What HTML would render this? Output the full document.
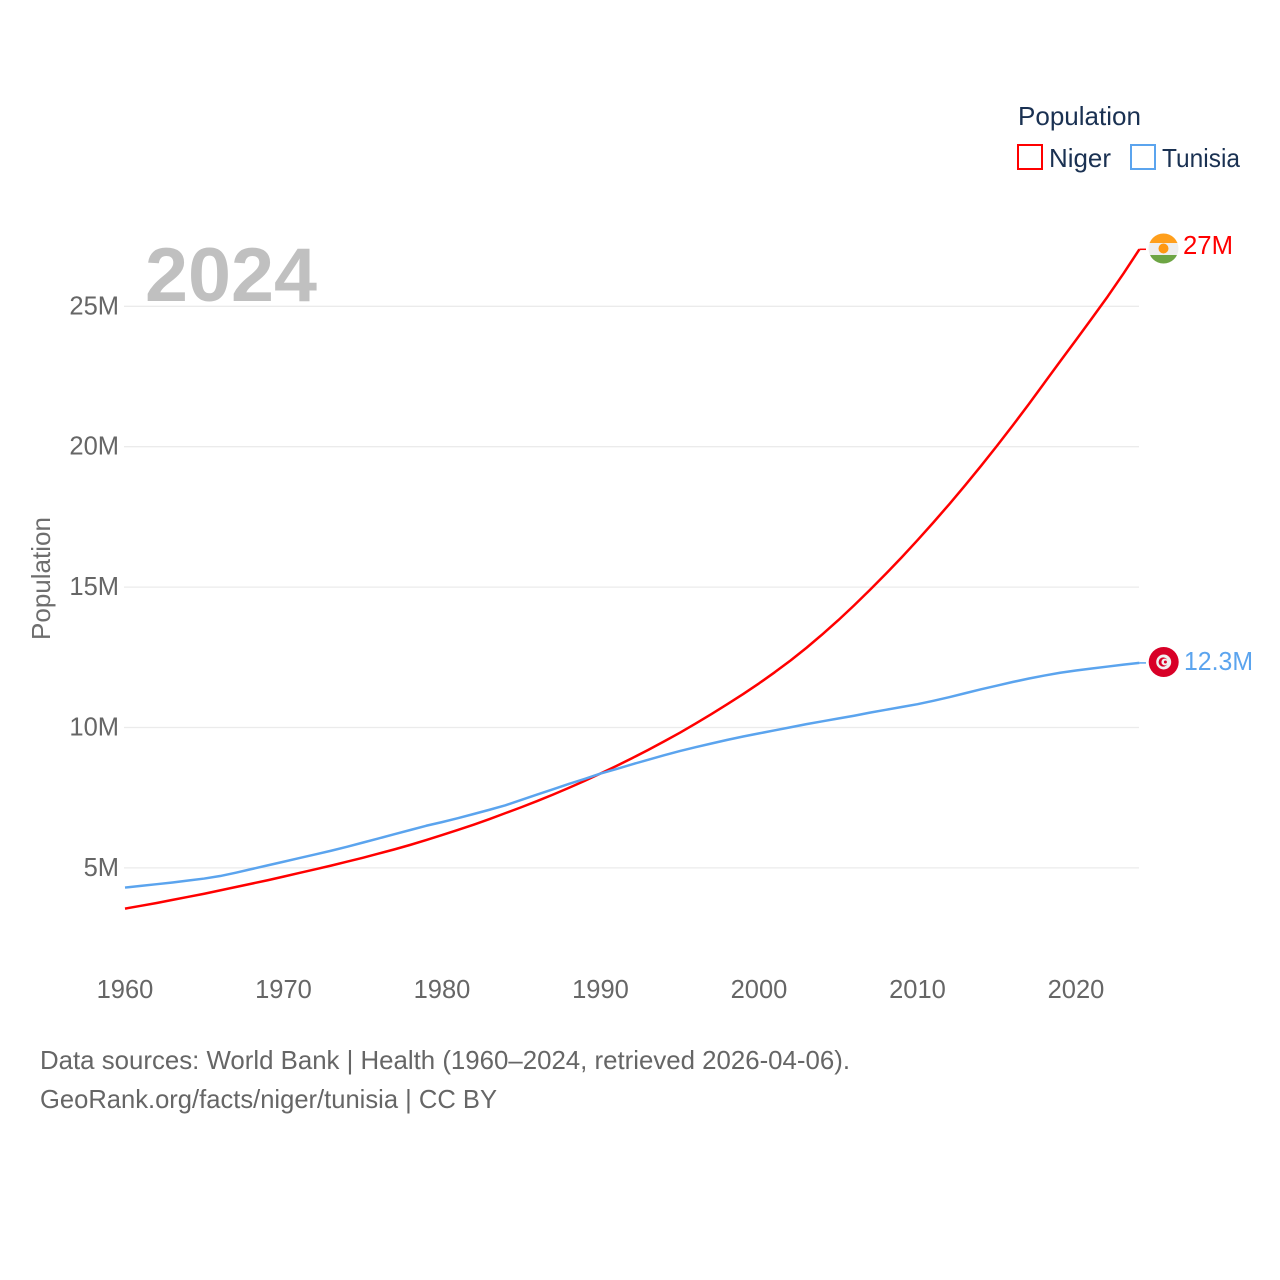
<!DOCTYPE html>
<html lang="en">
<head>
<meta charset="utf-8">
<title>Population: Niger and Tunisia</title>
<style>
  html, body { margin: 0; padding: 0; background: #fff; }
  svg { display: block; font-family: "Liberation Sans", sans-serif; }
</style>
</head>
<body>
<svg id="chart" xmlns="http://www.w3.org/2000/svg" width="1280" height="1280" viewBox="0 0 1280 1280">
  <rect x="0" y="0" width="1280" height="1280" fill="#ffffff"/>
  <g id="grid"></g>
  <g id="yticks"></g>
  <g id="xticks"></g>
  <text x="145" y="301" font-size="76" font-weight="700" fill="#c0c0c0" textLength="172" lengthAdjust="spacingAndGlyphs">2024</text>
  <text transform="translate(50 640) rotate(-90)" font-size="26" fill="#6e6e6e" textLength="123" lengthAdjust="spacingAndGlyphs">Population</text>
  <g id="series"></g>

  <g>
    <text x="1018" y="125" font-size="26" fill="#1a3152" textLength="123" lengthAdjust="spacingAndGlyphs">Population</text>
    <g>
      <rect x="1018" y="145" width="24" height="24" fill="#fff" stroke="#ff0000" stroke-width="2"/>
      <text x="1049" y="167" font-size="26" fill="#1a3152" textLength="62" lengthAdjust="spacingAndGlyphs">Niger</text>
    </g>
    <g>
      <rect x="1131" y="145" width="24" height="24" fill="#fff" stroke="#5ba4ee" stroke-width="2"/>
      <text x="1162" y="167" font-size="26" fill="#1a3152" textLength="78" lengthAdjust="spacingAndGlyphs">Tunisia</text>
    </g>
  </g>

  <defs>
    <clipPath id="niger-clip"><circle cx="1163.5" cy="248.5" r="15"/></clipPath>
  </defs>
  <g clip-path="url(#niger-clip)">
    <rect x="1148" y="233" width="31" height="10" fill="#ff9f1c"/>
    <rect x="1148" y="243" width="31" height="12" fill="#eeeeee"/>
    <rect x="1148" y="255" width="31" height="10" fill="#6da544"/>
    <circle cx="1163.5" cy="248.5" r="5" fill="#ff9811"/>
  </g>
  <text x="1183" y="254" font-size="26" fill="#ff0000" textLength="50" lengthAdjust="spacingAndGlyphs">27M</text>

  <g>
    <circle cx="1163.7" cy="662" r="15" fill="#d80027"/>
    <circle cx="1163.7" cy="662" r="7.5" fill="#f0f0f0"/>
    <circle cx="1163.2" cy="662" r="4.6" fill="#d80027"/>
    <circle cx="1164.8" cy="662" r="3.4" fill="#f0f0f0"/>
    <circle cx="1165.4" cy="662" r="1.5" fill="#d80027"/>
  </g>
  <text x="1184" y="670" font-size="26" fill="#5ba4ee" textLength="69" lengthAdjust="spacingAndGlyphs">12.3M</text>

  <text x="40" y="1069" font-size="26" fill="#666666" textLength="810" lengthAdjust="spacingAndGlyphs">Data sources: World Bank | Health (1960–2024, retrieved 2026-04-06).</text>
  <text x="40" y="1108" font-size="26" fill="#666666" textLength="457" lengthAdjust="spacingAndGlyphs">GeoRank.org/facts/niger/tunisia | CC BY</text>
</svg>

<script>
const years = [1960,1961,1962,1963,1964,1965,1966,1967,1968,1969,1970,1971,1972,1973,1974,1975,1976,1977,1978,1979,1980,1981,1982,1983,1984,1985,1986,1987,1988,1989,1990,1991,1992,1993,1994,1995,1996,1997,1998,1999,2000,2001,2002,2003,2004,2005,2006,2007,2008,2009,2010,2011,2012,2013,2014,2015,2016,2017,2018,2019,2020,2021,2022,2023,2024];
const nigerValues = [3.55,3.65,3.75,3.86,3.97,4.08,4.20,4.32,4.44,4.56,4.69,4.82,4.95,5.08,5.22,5.36,5.51,5.66,5.82,5.99,6.17,6.35,6.54,6.74,6.95,7.16,7.38,7.61,7.85,8.10,8.36,8.63,8.91,9.20,9.50,9.81,10.14,10.48,10.83,11.19,11.57,11.97,12.39,12.84,13.32,13.82,14.35,14.90,15.47,16.06,16.67,17.30,17.95,18.62,19.31,20.02,20.75,21.50,22.27,23.04,23.80,24.57,25.35,26.17,27.03];
const tunisiaValues = [4.30,4.36,4.42,4.48,4.55,4.62,4.71,4.83,4.96,5.09,5.22,5.35,5.48,5.61,5.75,5.90,6.05,6.20,6.35,6.50,6.63,6.77,6.92,7.07,7.23,7.42,7.61,7.80,7.99,8.17,8.36,8.52,8.69,8.85,9.01,9.16,9.30,9.43,9.56,9.68,9.79,9.90,10.01,10.12,10.22,10.32,10.42,10.53,10.63,10.73,10.83,10.95,11.08,11.22,11.36,11.49,11.62,11.74,11.85,11.95,12.03,12.10,12.17,12.24,12.30];
const yTickValues = [5,10,15,20,25];
const yTickLabels = ["5M","10M","15M","20M","25M"];
const xTickValues = [1960,1970,1980,1990,2000,2010,2020];
const xTickLabels = ["1960","1970","1980","1990","2000","2010","2020"];

const NS = "http://www.w3.org/2000/svg";
function xScale(year) { return 125 + (year - 1960) * 15.85; }
function yScale(value) { return 1008.3 - value * 28.08; }

const gridGroup = document.getElementById("grid");
const yTickGroup = document.getElementById("yticks");
const xTickGroup = document.getElementById("xticks");
const seriesGroup = document.getElementById("series");

yTickValues.forEach(function (value, i) {
  const line = document.createElementNS(NS, "line");
  
  
  line.setAttribute("x1", 124);
  line.setAttribute("x2", 1139);
  line.setAttribute("y1", yScale(value));
  line.setAttribute("y2", yScale(value));
  line.setAttribute("stroke", "#ebebeb");
  line.setAttribute("stroke-width", 1.3);
  gridGroup.appendChild(line);

  const label = document.createElementNS(NS, "text");
  
  
  label.setAttribute("x", 119);
  label.setAttribute("y", yScale(value) + 8);
  label.setAttribute("text-anchor", "end");
  label.setAttribute("font-size", 25.5);
  label.setAttribute("fill", "#666666");
  label.textContent = yTickLabels[i];
  yTickGroup.appendChild(label);
});

xTickValues.forEach(function (year, i) {
  const label = document.createElementNS(NS, "text");
  
  
  label.setAttribute("x", xScale(year));
  label.setAttribute("y", 998);
  label.setAttribute("text-anchor", "middle");
  label.setAttribute("font-size", 25.5);
  label.setAttribute("fill", "#666666");
  label.textContent = xTickLabels[i];
  xTickGroup.appendChild(label);
});

function linePoints(values) {
  return values.map(function (value, i) {
    return xScale(years[i]).toFixed(2) + "," + yScale(value).toFixed(2);
  });
}

function lastPointY(values) {
  return yScale(values[values.length - 1]);
}

const nigerLine = document.createElementNS(NS, "polyline");


nigerLine.setAttribute("points", linePoints(nigerValues).join(" "));
nigerLine.setAttribute("fill", "none");
nigerLine.setAttribute("stroke", "#ff0000");
nigerLine.setAttribute("stroke-width", 2.5);
nigerLine.setAttribute("stroke-linejoin", "round");
seriesGroup.appendChild(nigerLine);

const nigerLeader = document.createElementNS(NS, "line");


nigerLeader.setAttribute("x1", xScale(2024));
nigerLeader.setAttribute("x2", 1146);
nigerLeader.setAttribute("y1", lastPointY(nigerValues));
nigerLeader.setAttribute("y2", lastPointY(nigerValues));
nigerLeader.setAttribute("stroke", "#ff0000");
nigerLeader.setAttribute("stroke-width", 1.5);
seriesGroup.appendChild(nigerLeader);

const tunisiaLine = document.createElementNS(NS, "polyline");


tunisiaLine.setAttribute("points", linePoints(tunisiaValues).join(" "));
tunisiaLine.setAttribute("fill", "none");
tunisiaLine.setAttribute("stroke", "#5ba4ee");
tunisiaLine.setAttribute("stroke-width", 2.5);
tunisiaLine.setAttribute("stroke-linejoin", "round");
seriesGroup.appendChild(tunisiaLine);

const tunisiaLeader = document.createElementNS(NS, "line");


tunisiaLeader.setAttribute("x1", xScale(2024));
tunisiaLeader.setAttribute("x2", 1146);
tunisiaLeader.setAttribute("y1", lastPointY(tunisiaValues));
tunisiaLeader.setAttribute("y2", lastPointY(tunisiaValues));
tunisiaLeader.setAttribute("stroke", "#5ba4ee");
tunisiaLeader.setAttribute("stroke-width", 1.5);
seriesGroup.appendChild(tunisiaLeader);
</script>
</body>
</html>
